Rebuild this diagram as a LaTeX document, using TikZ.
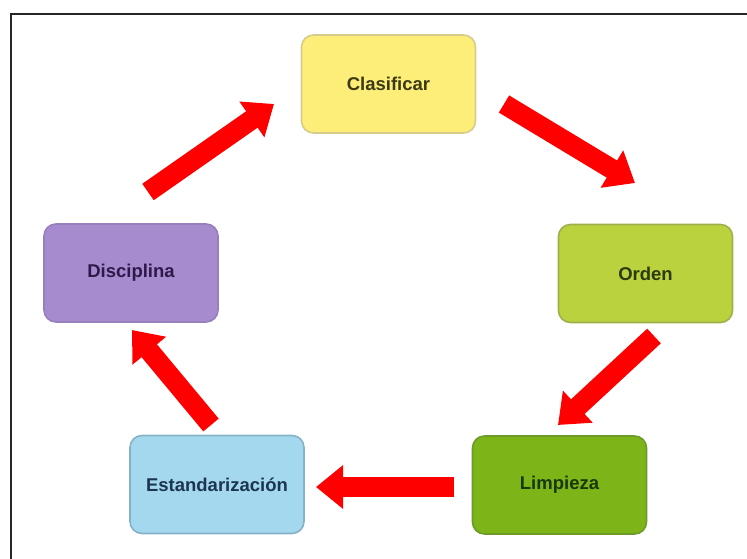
\documentclass[tikz,border=0pt]{standalone}
\usepackage{fontspec}
\setmainfont{Liberation Sans}
\usetikzlibrary{arrows.meta}

\definecolor{clasfill}{HTML}{FCEE78}
\definecolor{clasline}{HTML}{D6CC8C}
\definecolor{clastext}{HTML}{3C3A14}
\definecolor{ordfill}{HTML}{BAD23E}
\definecolor{ordline}{HTML}{9DB04A}
\definecolor{ordtext}{HTML}{2C3A0C}
\definecolor{limfill}{HTML}{7DB518}
\definecolor{limline}{HTML}{6E9A2A}
\definecolor{limtext}{HTML}{183808}
\definecolor{estfill}{HTML}{A4D8EF}
\definecolor{estline}{HTML}{86B2C6}
\definecolor{esttext}{HTML}{1C3550}
\definecolor{disfill}{HTML}{A68CCF}
\definecolor{disline}{HTML}{9680BC}
\definecolor{distext}{HTML}{2E1A4A}
\definecolor{arrowred}{HTML}{FF0000}

\tikzset{
  stagebox/.style={rectangle, rounded corners=12pt, line width=1.6pt,
    minimum width=174pt, minimum height=98pt, inner sep=0pt,
    font=\fontsize{18.5}{20}\selectfont\bfseries},
  fatarrow/.style={draw=arrowred, line width=20pt,
    -{Triangle[width=42pt,length=27pt]}, fill=arrowred}
}

\begin{document}
\begin{tikzpicture}[x=1pt,y=-1pt]
  \useasboundingbox (0,0) rectangle (747,559);

  % frame (top and left edges)
  \draw[line width=2pt, black!85] (11,559) -- (11,14) -- (747,14);

  % the five stages
  \node[stagebox, fill=clasfill, draw=clasline, text=clastext] (clas) at (388.5,84) {Clasificar};
  \node[stagebox, fill=ordfill, draw=ordline, text=ordtext] (orden) at (645.5,273.5) {Orden};
  \node[stagebox, fill=limfill, draw=limline, text=limtext] (limp) at (559.5,485) {Limpieza};
  \node[stagebox, fill=estfill, draw=estline, text=esttext] (est) at (217,484.5) {Estandarización};
  \node[stagebox, fill=disfill, draw=disline, text=distext] (disc) at (131,273) {Disciplina};

  % arrow end points between the stages
  \coordinate (a1s) at (148,192);  \coordinate (a1e) at (274,104);
  \coordinate (a2s) at (504,104);  \coordinate (a2e) at (635,183);
  \coordinate (a3s) at (654,336);  \coordinate (a3e) at (558,425);
  \coordinate (a4s) at (454,487);  \coordinate (a4e) at (316,487);
  \coordinate (a5s) at (211,425);  \coordinate (a5e) at (132,330);

  \draw[fatarrow] (a1s) -- (a1e);
  \draw[fatarrow] (a2s) -- (a2e);
  \draw[fatarrow] (a3s) -- (a3e);
  \draw[fatarrow] (a4s) -- (a4e);
  \draw[fatarrow] (a5s) -- (a5e);
\end{tikzpicture}
\end{document}
